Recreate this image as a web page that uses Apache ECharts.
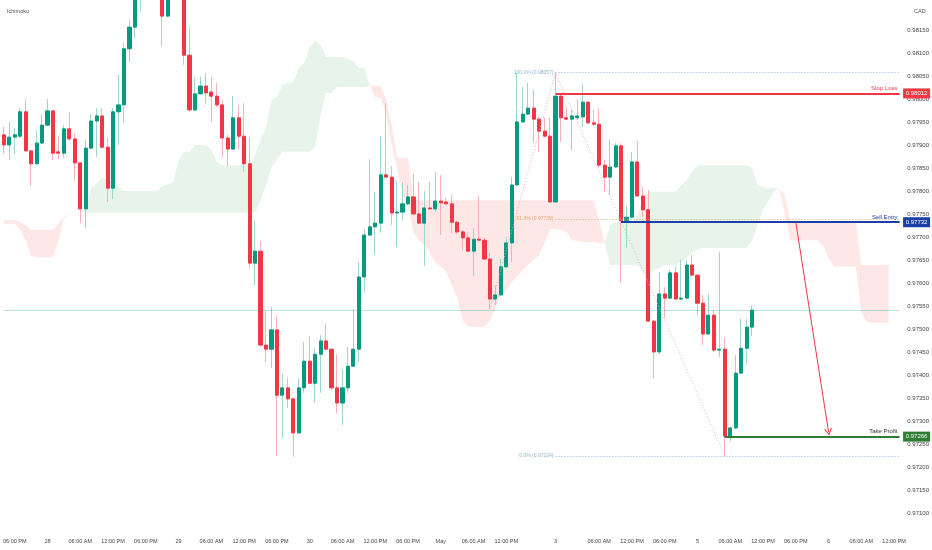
<!DOCTYPE html>
<html><head><meta charset="utf-8">
<script src="https://cdn.jsdelivr.net/npm/echarts@6/dist/echarts.min.js"></script>
<style>html,body{margin:0;padding:0;background:#fff}#c{width:932px;height:550px}</style>
</head><body><div id="c"></div>
<script>
// ---- x-axis tick labels (hourly bars) ----
const barCount = 165;
const tickIdx = [2,8,14,20,26,32,38,44,50,56,62,68,74,80,86,92,101,109,115,121,127,133,139,145,151,157,163];
const tickText = ['06:00 PM','28','06:00 AM','12:00 PM','06:00 PM','29','06:00 AM','12:00 PM','06:00 PM','30','06:00 AM','12:00 PM','06:00 PM','May','06:00 AM','12:00 PM','3','06:00 AM','12:00 PM','06:00 PM','5','06:00 AM','12:00 PM','06:00 PM','6','06:00 AM','12:00 PM'];

// ---- OHLC (1H) ----
const open = [0.97922,0.97900,0.97917,0.97919,0.97972,0.97887,0.97859,0.97904,0.97943,0.97974,0.97885,0.97882,0.97935,0.97913,0.97861,0.97761,0.97893,0.97952,0.97963,0.97895,0.97806,0.97972,0.97987,0.98109,0.98156,0.98232,0.98269,0.98302,0.98280,0.98237,0.98180,0.98226,0.98259,0.98248,0.98095,0.97976,0.98011,0.98028,0.98015,0.98006,0.97987,0.97915,0.97891,0.97959,0.97919,0.97859,0.97643,0.97669,0.97465,0.97456,0.97498,0.97356,0.97372,0.97348,0.97274,0.97372,0.97430,0.97382,0.97445,0.97474,0.97456,0.97372,0.97339,0.97372,0.97419,0.97456,0.97613,0.97704,0.97722,0.97730,0.97835,0.97830,0.97752,0.97754,0.97772,0.97787,0.97750,0.97730,0.97763,0.97761,0.97778,0.97776,0.97772,0.97732,0.97711,0.97698,0.97669,0.97695,0.97693,0.97652,0.97565,0.97574,0.97635,0.97687,0.97813,0.97950,0.97967,0.97980,0.97956,0.97930,0.97919,0.97776,0.98006,0.97959,0.97956,0.97959,0.97961,0.97993,0.97948,0.97945,0.97856,0.97830,0.97852,0.97898,0.97735,0.97743,0.97863,0.97789,0.97759,0.97517,0.97450,0.97576,0.97567,0.97622,0.97565,0.97567,0.97639,0.97617,0.97556,0.97489,0.97530,0.97454,0.97456,0.97267,0.97285,0.97404,0.97458,0.97504];
const close = [0.97900,0.97917,0.97922,0.97972,0.97887,0.97859,0.97904,0.97943,0.97974,0.97882,0.97882,0.97935,0.97913,0.97861,0.97761,0.97893,0.97952,0.97963,0.97895,0.97806,0.97972,0.97987,0.98109,0.98156,0.98237,0.98269,0.98302,0.98280,0.98237,0.98180,0.98226,0.98259,0.98248,0.98095,0.97976,0.98011,0.98028,0.98013,0.98006,0.97987,0.97915,0.97891,0.97959,0.97919,0.97859,0.97643,0.97669,0.97465,0.97456,0.97498,0.97356,0.97372,0.97348,0.97274,0.97372,0.97430,0.97382,0.97445,0.97474,0.97456,0.97372,0.97339,0.97372,0.97419,0.97456,0.97613,0.97704,0.97722,0.97730,0.97835,0.97830,0.97752,0.97754,0.97772,0.97787,0.97750,0.97730,0.97763,0.97761,0.97778,0.97774,0.97772,0.97732,0.97711,0.97698,0.97669,0.97695,0.97693,0.97652,0.97565,0.97574,0.97635,0.97687,0.97813,0.97950,0.97967,0.97980,0.97956,0.97930,0.97919,0.97776,0.98006,0.97959,0.97956,0.97963,0.97963,0.97993,0.97948,0.97945,0.97856,0.97830,0.97852,0.97898,0.97735,0.97743,0.97863,0.97789,0.97759,0.97517,0.97450,0.97576,0.97567,0.97622,0.97565,0.97567,0.97639,0.97617,0.97556,0.97489,0.97530,0.97454,0.97456,0.97267,0.97285,0.97404,0.97458,0.97504,0.97541];
const high = [0.97939,0.97950,0.97937,0.97980,0.97998,0.97889,0.97930,0.97965,0.98000,0.97976,0.97919,0.97943,0.97972,0.97926,0.97863,0.97911,0.97967,0.97980,0.97980,0.97917,0.97980,0.98052,0.98122,0.98172,0.98259,0.98280,0.98324,0.98335,0.98313,0.98248,0.98248,0.98280,0.98291,0.98259,0.98156,0.98048,0.98048,0.98056,0.98048,0.98035,0.97998,0.97922,0.98006,0.97987,0.97991,0.97917,0.97737,0.97691,0.97539,0.97548,0.97528,0.97402,0.97395,0.97352,0.97393,0.97472,0.97485,0.97458,0.97487,0.97511,0.97458,0.97445,0.97413,0.97461,0.97543,0.97645,0.97717,0.97869,0.97798,0.97919,0.97991,0.97854,0.97822,0.97819,0.97813,0.97837,0.97819,0.97800,0.97819,0.97841,0.97835,0.97785,0.97791,0.97735,0.97715,0.97711,0.97719,0.97789,0.97698,0.97665,0.97595,0.97652,0.97700,0.97830,0.98056,0.98026,0.98035,0.98019,0.97961,0.97959,0.97959,0.98057,0.98009,0.97982,0.97976,0.97998,0.98032,0.97995,0.97976,0.97980,0.97867,0.97911,0.97904,0.97904,0.97767,0.97885,0.97909,0.97809,0.97802,0.97519,0.97624,0.97591,0.97628,0.97635,0.97650,0.97650,0.97661,0.97619,0.97574,0.97576,0.97541,0.97667,0.97482,0.97287,0.97443,0.97522,0.97522,0.97550];
const low = [0.97882,0.97867,0.97880,0.97915,0.97885,0.97811,0.97856,0.97902,0.97941,0.97867,0.97869,0.97872,0.97909,0.97824,0.97730,0.97719,0.97891,0.97874,0.97893,0.97776,0.97782,0.97900,0.97948,0.98080,0.98132,0.98189,0.98232,0.98237,0.98222,0.98115,0.98178,0.98219,0.98222,0.98074,0.97972,0.97974,0.98009,0.97991,0.97950,0.97982,0.97874,0.97854,0.97889,0.97891,0.97841,0.97632,0.97595,0.97461,0.97428,0.97415,0.97224,0.97263,0.97328,0.97222,0.97272,0.97361,0.97380,0.97339,0.97361,0.97454,0.97367,0.97317,0.97291,0.97361,0.97417,0.97428,0.97580,0.97702,0.97661,0.97709,0.97828,0.97726,0.97678,0.97737,0.97769,0.97748,0.97728,0.97637,0.97759,0.97754,0.97704,0.97769,0.97709,0.97706,0.97672,0.97667,0.97615,0.97691,0.97650,0.97543,0.97552,0.97572,0.97632,0.97645,0.97811,0.97948,0.97965,0.97906,0.97885,0.97917,0.97774,0.97774,0.97906,0.97954,0.97889,0.97954,0.97939,0.97945,0.97941,0.97850,0.97798,0.97791,0.97850,0.97600,0.97676,0.97741,0.97787,0.97743,0.97515,0.97393,0.97445,0.97524,0.97565,0.97563,0.97563,0.97565,0.97615,0.97530,0.97465,0.97487,0.97450,0.97439,0.97224,0.97256,0.97282,0.97402,0.97422,0.97485];

// ---- Ichimoku cloud (displaced 26 bars ahead) ----
const spanA = [0.97728,0.97728,0.97728,0.97715,0.97693,0.97659,0.97656,0.97656,0.97656,0.97656,0.97693,0.97741,0.97750,0.97750,0.97750,0.97752,0.97806,0.97817,0.97828,0.97824,0.97819,0.97809,0.97800,0.97800,0.97800,0.97800,0.97800,0.97800,0.97800,0.97809,0.97815,0.97819,0.97867,0.97885,0.97885,0.97900,0.97900,0.97900,0.97889,0.97863,0.97856,0.97856,0.97856,0.97856,0.97856,0.97859,0.97878,0.97911,0.97937,0.97998,0.98004,0.98030,0.98035,0.98037,0.98067,0.98078,0.98113,0.98126,0.98117,0.98091,0.98091,0.98091,0.98091,0.98087,0.98082,0.98067,0.98067,0.98028,0.98004,0.98002,0.97965,0.97900,0.97850,0.97791,0.97769,0.97711,0.97693,0.97682,0.97667,0.97645,0.97635,0.97624,0.97595,0.97567,0.97519,0.97506,0.97504,0.97504,0.97504,0.97519,0.97545,0.97572,0.97585,0.97602,0.97613,0.97628,0.97639,0.97650,0.97661,0.97687,0.97717,0.97717,0.97715,0.97711,0.97693,0.97691,0.97689,0.97689,0.97689,0.97687,0.97687,0.97726,0.97732,0.97732,0.97732,0.97732,0.97748,0.97780,0.97798,0.97798,0.97798,0.97798,0.97798,0.97798,0.97813,0.97824,0.97841,0.97856,0.97856,0.97856,0.97856,0.97856,0.97856,0.97856,0.97856,0.97856,0.97856,0.97850,0.97813,0.97809,0.97806,0.97806,0.97806,0.97748,0.97693,0.97693,0.97693,0.97693,0.97693,0.97693,0.97682,0.97654,0.97635,0.97635,0.97635,0.97635,0.97635,0.97535,0.97515,0.97513,0.97513,0.97513,0.97513];
const spanB = [0.97737,0.97737,0.97737,0.97732,0.97726,0.97715,0.97715,0.97715,0.97715,0.97715,0.97728,0.97745,0.97750,0.97750,0.97750,0.97752,0.97752,0.97752,0.97752,0.97752,0.97752,0.97752,0.97752,0.97752,0.97752,0.97752,0.97752,0.97752,0.97752,0.97752,0.97752,0.97752,0.97752,0.97752,0.97752,0.97752,0.97752,0.97752,0.97752,0.97752,0.97752,0.97752,0.97752,0.97752,0.97752,0.97752,0.97752,0.97780,0.97813,0.97852,0.97867,0.97885,0.97885,0.97885,0.97885,0.97885,0.97885,0.97895,0.97965,0.98013,0.98013,0.98026,0.98026,0.98026,0.98026,0.98026,0.98026,0.98028,0.98028,0.98028,0.97998,0.97943,0.97872,0.97872,0.97872,0.97780,0.97780,0.97780,0.97780,0.97780,0.97780,0.97780,0.97780,0.97780,0.97780,0.97780,0.97780,0.97780,0.97780,0.97780,0.97780,0.97780,0.97780,0.97780,0.97780,0.97780,0.97780,0.97780,0.97780,0.97780,0.97780,0.97780,0.97780,0.97780,0.97780,0.97780,0.97780,0.97780,0.97780,0.97737,0.97687,0.97639,0.97639,0.97639,0.97639,0.97639,0.97639,0.97624,0.97617,0.97628,0.97632,0.97639,0.97639,0.97639,0.97645,0.97654,0.97667,0.97672,0.97676,0.97676,0.97676,0.97676,0.97676,0.97676,0.97676,0.97676,0.97676,0.97693,0.97726,0.97759,0.97780,0.97798,0.97806,0.97791,0.97732,0.97732,0.97732,0.97732,0.97732,0.97732,0.97732,0.97732,0.97732,0.97732,0.97732,0.97732,0.97732,0.97639,0.97639,0.97639,0.97639,0.97639,0.97639];

// ---- trade levels & fib ----
const stopLoss = 0.98012, sellEntry = 0.97732, takeProfit = 0.97266;
const stopIdx = 101, entryIdx = 113, tpIdx = 132, lastIdx = 164;
const fib100 = 0.98057, fib618 = 0.97739, fib0 = 0.97224, fibIdx = 101, fib0Idx = 132;
const legStartIdx = 89, legStart = 0.97543;
const arrowFromIdx = 145, arrowToIdx = 151, arrowTip = 0.97276;

const cats = Array.from({length: barCount}, (_, i) => String(i));
const labelAt = {}; tickIdx.forEach((k, j) => labelAt[k] = tickText[j]);
const tickSet = new Set(tickIdx);
const wickData = open.map((o, i) => [o, close[i], low[i], high[i]]);
const bodyData = open.map((o, i) => [o, close[i], Math.min(o, close[i]), Math.max(o, close[i])]);
const kBase = spanA.map((a, i) => Math.min(a, spanB[i]));
const kGreen = spanA.map((a, i) => Math.max(a - spanB[i], 0));
const kRed = spanA.map((a, i) => Math.max(spanB[i] - a, 0));
const lastClose = close[close.length - 1];

const UP = '#089981', DOWN = '#f23645', BLUE = '#1b3fa6', GREEN = '#2e7d32';
const FIBC = '#8fb9c9', FIBO = '#dcab6f';
const chevron = 'path://M0,10 L5,0 L10,10 L8.6,10 L5,2.8 L1.4,10 Z';

const lvl = (idx, v, color, text, textColor) => [
  {coord: [idx, v], lineStyle: {color, width: 2, type: 'solid'},
   label: {show: true, position: 'insideEndTop', formatter: text, color: textColor, fontSize: 6, distance: 2}},
  {coord: [lastIdx, v]}
];
const fibLine = (v, color, text) => [
  {coord: [fibIdx, v], lineStyle: {color, width: 1, type: [1, 2]},
   label: {show: true, position: 'start', formatter: text, color, fontSize: 5, distance: 2}},
  {coord: [lastIdx, v]}
];
const tag = (v, color) => ({coord: [lastIdx, v], itemStyle: {color},
  label: {formatter: v.toFixed(5)}});

const chart = echarts.init(document.getElementById('c'));
chart.setOption({
  animation: false,
  backgroundColor: '#ffffff',
  textStyle: {fontFamily: 'Liberation Sans, Arial, sans-serif'},
  title: [
    {text: 'Ichimoku', left: 2, top: 3, textStyle: {fontSize: 5.5, color: '#555', fontWeight: 'normal'}},
    {text: 'CAD', left: 909, top: 3, textStyle: {fontSize: 5.5, color: '#555', fontWeight: 'normal'}}
  ],
  grid: {left: -1, right: 29, top: 0, bottom: 37},
  xAxis: {
    type: 'category', data: cats, boundaryGap: true,
    axisLine: {show: false}, axisTick: {show: false}, splitLine: {show: false},
    axisLabel: {interval: (i) => tickSet.has(i), formatter: (v) => labelAt[+v] || '',
      margin: 25, fontSize: 5.5, color: '#444'}
  },
  yAxis: {
    type: 'value', position: 'right', min: 0.971, max: 0.98215, interval: 0.0005, scale: true,
    splitLine: {show: false}, axisLine: {show: false}, axisTick: {show: false},
    axisLabel: {showMaxLabel: false, margin: 5, fontSize: 6, color: '#444',
      formatter: (v) => v > 0.9818 ? '' : v.toFixed(5)}
  },
  series: [
    {type: 'line', data: kBase, stack: 'kumo', symbol: 'none', lineStyle: {width: 0}, silent: true, z: 1},
    {type: 'line', data: kGreen, stack: 'kumo', symbol: 'none', lineStyle: {width: 0}, silent: true, z: 1,
      areaStyle: {color: 'rgba(67,160,71,0.12)', opacity: 1}},
    {type: 'line', data: kRed, stack: 'kumo', symbol: 'none', lineStyle: {width: 0}, silent: true, z: 1,
      areaStyle: {color: 'rgba(244,67,54,0.12)', opacity: 1}},
    {type: 'candlestick', data: wickData, barWidth: 1, silent: true, z: 2,
      itemStyle: {color: 'transparent', color0: 'transparent', borderColor: '#9dd6cc', borderColor0: '#f8b0b7', borderWidth: 1}},
    {type: 'candlestick', data: bodyData, barWidth: 3.6, silent: true, z: 3,
      itemStyle: {color: UP, color0: DOWN, borderColor: UP, borderColor0: DOWN, borderWidth: 1}},
    {type: 'line', data: [], clip: false, silent: true, z: 5,
      markLine: {
        symbol: ['none', 'none'], silent: true, animation: false,
        data: [
          [{coord: [0, lastClose], lineStyle: {color: 'rgba(8,153,129,0.28)', width: 1, type: 'solid'}, label: {show: false}}, {coord: [lastIdx, lastClose]}],
          [{coord: [legStartIdx, legStart], lineStyle: {color: '#f7a5ad', width: 1, type: [1, 2]}, label: {show: false}}, {coord: [fibIdx, fib100]}],
          [{coord: [fibIdx, fib100], lineStyle: {color: '#dcb5b8', width: 1, type: [1, 2]}, label: {show: false}}, {coord: [fib0Idx, fib0]}],
          fibLine(fib100, FIBC, '100.0% (' + fib100.toFixed(5) + ')'),
          fibLine(fib618, FIBO, '61.8% (' + fib618.toFixed(5) + ')'),
          fibLine(fib0, FIBC, '0.0% (' + fib0.toFixed(5) + ')'),
          lvl(stopIdx, stopLoss, DOWN, 'Stop Loss', DOWN),
          lvl(entryIdx, sellEntry, BLUE, 'Sell Entry', BLUE),
          lvl(tpIdx, takeProfit, GREEN, 'Take Profit', '#333'),
          [{coord: [arrowFromIdx, sellEntry], symbol: 'none', lineStyle: {color: DOWN, width: 1, type: 'solid'}, label: {show: false}},
           {coord: [arrowToIdx, arrowTip], symbol: chevron, symbolSize: [8, 7]}]
        ]
      },
      markPoint: {
        symbol: 'rect', symbolSize: [27, 10], symbolOffset: [17, 0], silent: true, z: 10,
        label: {show: true, color: '#fff', fontSize: 6, position: 'inside'},
        data: [tag(stopLoss, DOWN), tag(sellEntry, BLUE), tag(takeProfit, GREEN)]
      }
    }
  ]
});
</script></body></html>
